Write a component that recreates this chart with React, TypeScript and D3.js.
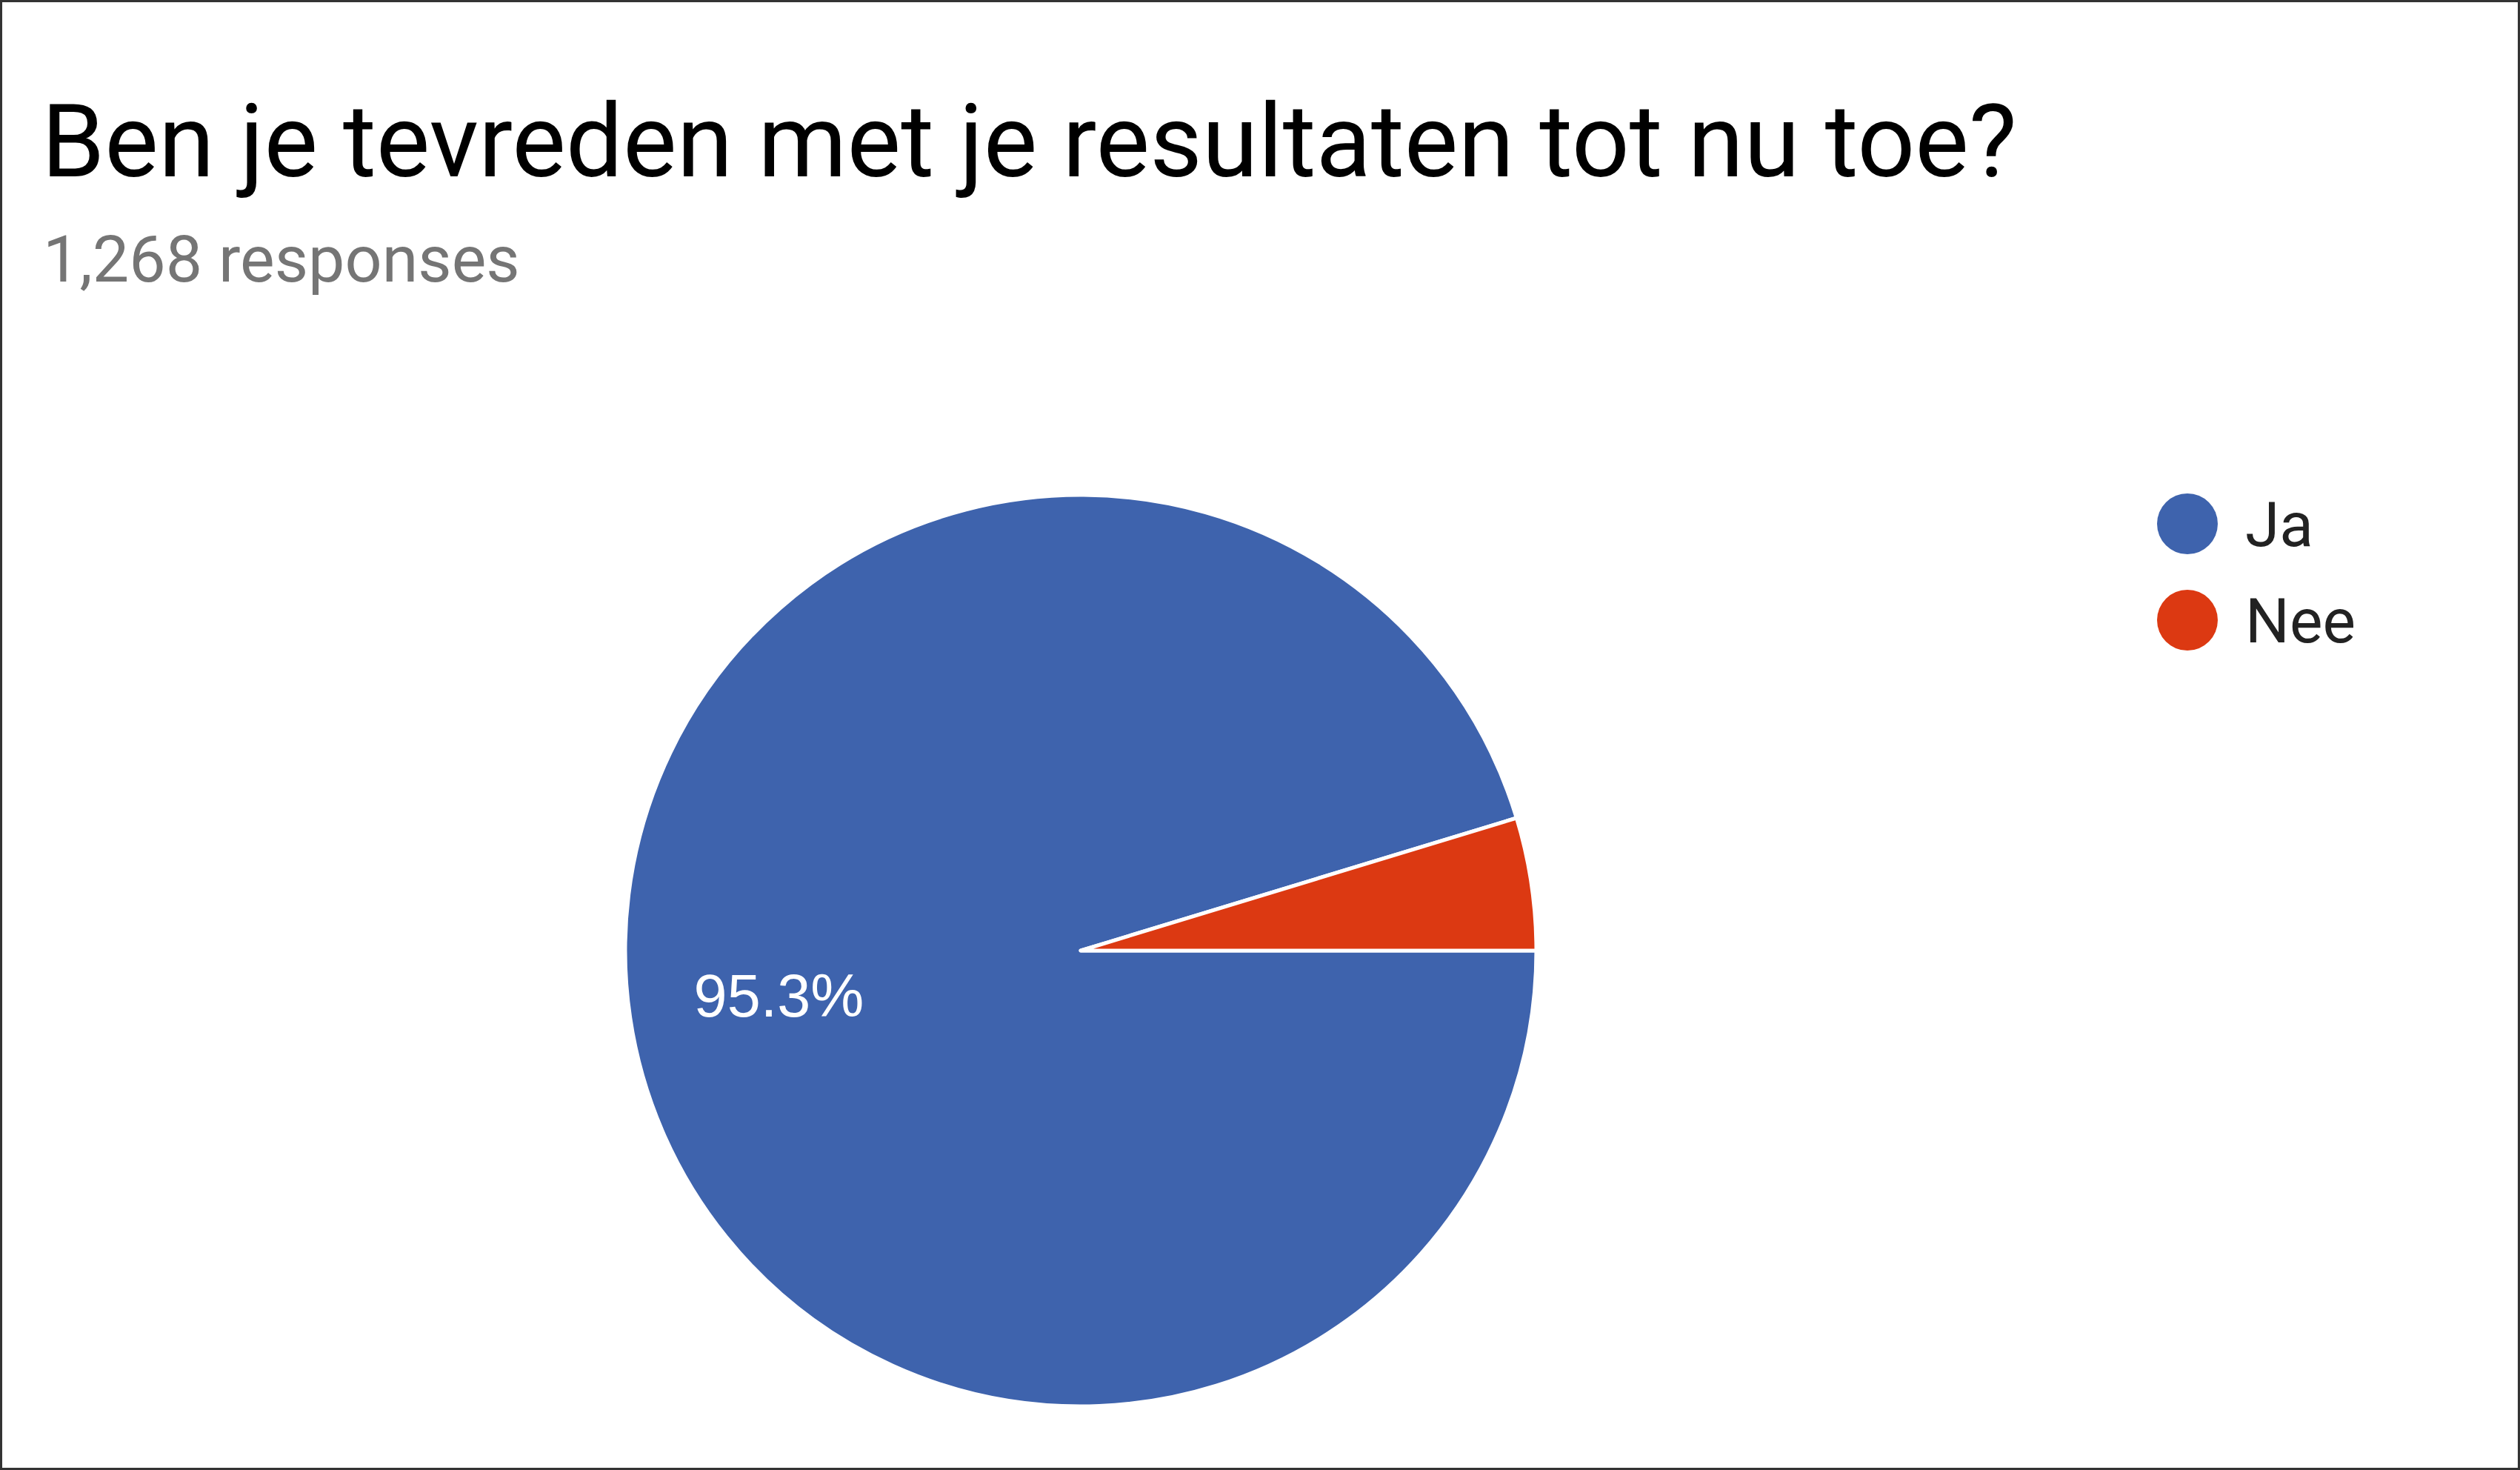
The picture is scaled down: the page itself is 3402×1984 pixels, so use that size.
import React, { useRef, useEffect } from "react";
import * as d3 from "d3";

const categories = ["Ja", "Nee"];
const percentages = [95.3, 4.7];
const colors = ["#3e63ad", "#dc3912"];
const title = "Ben je tevreden met je resultaten tot nu toe?";
const subtitle = "1,268 responses";

const width = 3402;
const height = 1984;

const PieChart = () => {
  const canvas = useRef<SVGSVGElement>(null);

  const drawPie = () => {
    const svg = d3.select(canvas.current);
    svg.selectAll("*").remove();

    svg.append("rect")
      .attr("x", 1.5).attr("y", 1.5)
      .attr("width", width - 3).attr("height", height - 3)
      .attr("fill", "#fff")
      .attr("stroke", "#333").attr("stroke-width", 3);

    svg.append("text")
      .attr("x", 56).attr("y", 238)
      .attr("font-size", 137)
      .attr("fill", "#000")
      .text(title);

    svg.append("text")
      .attr("x", 58).attr("y", 380)
      .attr("font-size", 88)
      .attr("fill", "#757575")
      .text(subtitle);

    const cx = 1459, cy = 1283, r = 615;
    const data = categories.map((c, i) => ({ name: c, value: percentages[i], color: colors[i] }));

    // slices start at 3 o'clock going clockwise, like the original
    const pie = d3.pie<any>()
      .value(d => d.value)
      .sort(null)
      .startAngle(Math.PI / 2)
      .endAngle(Math.PI / 2 + 2 * Math.PI);

    const arc = d3.arc<any>().innerRadius(0).outerRadius(r);
    const labelArc = d3.arc<any>().innerRadius(r * 0.67).outerRadius(r * 0.67);

    const g = svg.append("g").attr("transform", "translate(" + cx + "," + cy + ")");
    const arcs = pie(data);

    g.selectAll("path")
      .data(arcs)
      .enter().append("path")
      .attr("d", arc)
      .attr("fill", d => d.data.color)
      .attr("stroke", "#fff")
      .attr("stroke-width", 5)
      .attr("stroke-linejoin", "round");

    g.selectAll("text.lbl")
      .data(arcs.filter(d => d.data.value > 10))
      .enter().append("text")
      .attr("class", "lbl")
      .attr("x", d => labelArc.centroid(d)[0])
      .attr("y", d => labelArc.centroid(d)[1])
      .attr("text-anchor", "middle")
      .attr("dy", "0.35em")
      .attr("font-family", "Liberation Sans, Arial, sans-serif")
      .attr("font-size", 81)
      .attr("fill", "#fff")
      .text(d => d.data.value.toFixed(1) + "%");

    const legend = svg.append("g").attr("transform", "translate(2953,707)");
    data.forEach((d, i) => {
      legend.append("circle")
        .attr("cx", 0).attr("cy", i * 130)
        .attr("r", 41)
        .attr("fill", d.color);
      legend.append("text")
        .attr("x", 78).attr("y", i * 130 + 30)
        .attr("font-size", 84)
        .attr("fill", "#222")
        .text(d.name);
    });
  };

  useEffect(() => {
    drawPie();
  });

  return (
    <svg ref={canvas} width={width} height={height}
      style={{ position: "absolute", left: 0, top: 0, fontFamily: "Roboto" }} />
  );
};

export default function App() {
  return <PieChart />;
}
